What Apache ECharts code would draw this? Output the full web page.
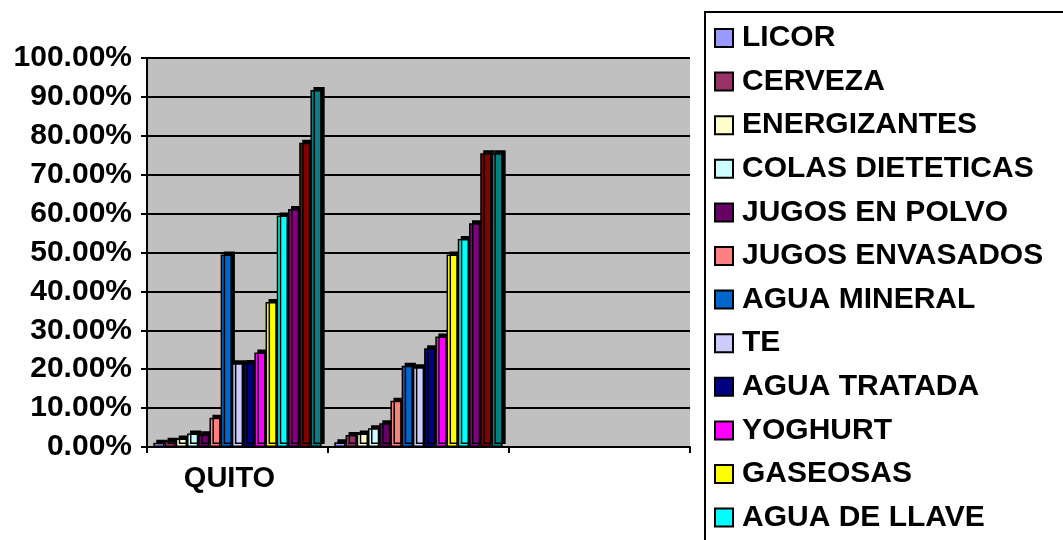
<!DOCTYPE html>
<html>
<head>
<meta charset="utf-8">
<script src="https://cdn.jsdelivr.net/npm/echarts@6/dist/echarts.min.js"></script>
<style>html,body{margin:0;padding:0;background:#fff;}#c{width:1063px;height:540px;}</style>
</head>
<body>
<div id="c"></div>
<script>
const categories = ['QUITO', '', ''];
const seriesNames = ['LICOR','CERVEZA','ENERGIZANTES','COLAS DIETETICAS','JUGOS EN POLVO','JUGOS ENVASADOS','AGUA MINERAL','TE','AGUA TRATADA','YOGHURT','GASEOSAS','AGUA DE LLAVE','SERIE 13','SERIE 14','SERIE 15'];
const seriesColors = ['#9999FF','#993366','#FFFFCC','#CCFFFF','#660066','#FF8080','#0066CC','#CCCCFF','#000080','#FF00FF','#FFFF00','#00FFFF','#800080','#800000','#008080'];
const licor = [0.011, 0.012, null];
const cerveza = [0.016, 0.031, null];
const energizantes = [0.022, 0.035, null];
const colasDieteticas = [0.035, 0.048, null];
const jugosEnPolvo = [0.033, 0.061, null];
const jugosEnvasados = [0.075, 0.119, null];
const aguaMineral = [0.495, 0.209, null];
const te = [0.215, 0.205, null];
const aguaTratada = [0.216, 0.254, null];
const yoghurt = [0.243, 0.284, null];
const gaseosas = [0.373, 0.495, null];
const aguaDeLlave = [0.595, 0.535, null];
const serie13 = [0.612, 0.575, null];
const serie14 = [0.782, 0.755, null];
const serie15 = [0.918, 0.755, null];
const seriesValues = [licor, cerveza, energizantes, colasDieteticas, jugosEnPolvo, jugosEnvasados, aguaMineral, te, aguaTratada, yoghurt, gaseosas, aguaDeLlave, serie13, serie14, serie15];
const yTicks = [0,0.1,0.2,0.3,0.4,0.5,0.6,0.7,0.8,0.9,1.0];

const FONT = '"Liberation Sans", Arial, sans-serif';
const chart = echarts.init(document.getElementById('c'));
chart.setOption({
  animation: false,
  backgroundColor: '#fff',
  textStyle: { fontFamily: FONT },
  grid: { left: 147, right: 373, top: 58, bottom: 93, show: true, backgroundColor: '#C0C0C0', borderWidth: 0 },
  legend: {
    orient: 'vertical', left: 705, top: 12, height: 800,
    padding: [11, 60, 9, 9],
    itemWidth: 18, itemHeight: 18, itemGap: 13.6,
    borderColor: '#000', borderWidth: 2,
    icon: 'rect',
    itemStyle: { borderColor: '#000', borderWidth: 2, shadowBlur: 0, shadowColor: 'rgba(0,0,0,0)', shadowOffsetX: 0, shadowOffsetY: 0 },
    textStyle: { fontFamily: FONT, fontWeight: 'bold', fontSize: 30, lineHeight: 30, color: '#000', padding: [0,0,0,4] },
    data: seriesNames
  },
  xAxis: {
    type: 'category', data: categories,
    axisLine: { lineStyle: { color: '#000', width: 2 } },
    axisTick: { show: true, length: 6, lineStyle: { color: '#000', width: 2 } },
    axisLabel: { fontFamily: FONT, fontWeight: 'bold', fontSize: 29, color: '#000', margin: 17, padding: [0, 16, 0, 0] },
    splitLine: { show: false }
  },
  yAxis: {
    type: 'value', min: 0, max: 1, interval: 0.1,
    axisLine: { show: true, lineStyle: { color: '#000', width: 2 } },
    axisTick: { show: true, length: 6, lineStyle: { color: '#000', width: 2 } },
    axisLabel: { fontFamily: FONT, fontWeight: 'bold', fontSize: 30, color: '#000', margin: 15,
      formatter: v => (v * 100).toFixed(2) + '%' },
    splitLine: { show: true, lineStyle: { color: '#000', width: 2 } }
  },
  series: seriesNames.map((n, i) => ({
    name: n, type: 'bar', data: seriesValues[i],
    barGap: '0%', barCategoryGap: '7%',
    itemStyle: { color: seriesColors[i], borderColor: '#000', borderWidth: 1.5,
      shadowColor: '#000', shadowBlur: 0, shadowOffsetX: 3, shadowOffsetY: -3 }
  }))
});
</script>
</body>
</html>
